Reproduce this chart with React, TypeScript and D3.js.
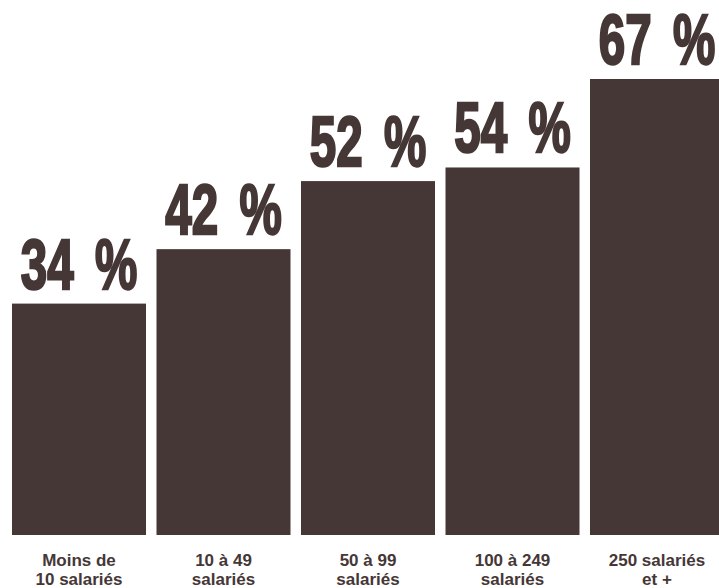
import React, { useEffect, useRef } from 'react';
import * as d3 from 'd3';

const categories = ['Moins de|10 salariés', '10 à 49|salariés', '50 à 99|salariés', '100 à 249|salariés', '250 salariés|et +'];
const values = [34, 42, 52, 54, 67];

export default function App() {
  const svgRef = useRef<SVGSVGElement>(null);

  useEffect(() => {
    if (!svgRef.current) return;
    drawChart();
  }, []);

  const drawChart = () => {
    const svg = d3.select(svgRef.current);
    svg.selectAll('*').remove();

    const W = 719;
    const H = 588;
    const color = '#463737';
    const baseline = 535;

    svg.attr('width', W).attr('height', H);

    const x = d3
      .scaleBand<string>()
      .domain(categories)
      .range([12, 724])
      .paddingInner(0.0727)
      .paddingOuter(0);

    const y = d3.scaleLinear().domain([0, 67]).range([baseline, 79]);

    // Bars
    svg
      .selectAll('.bar')
      .data(values)
      .enter()
      .append('rect')
      .attr('class', 'bar')
      .attr('x', (d, i) => x(categories[i])!)
      .attr('y', (d) => y(d))
      .attr('width', x.bandwidth())
      .attr('height', (d) => y(0) - y(d))
      .attr('fill', color);

    // Value labels (condensed heavy)
    const sx = 0.68;
    svg
      .selectAll('.val')
      .data(values)
      .enter()
      .append('text')
      .attr('class', 'val')
      .attr('transform', (d, i) => `translate(${x(categories[i])! + x.bandwidth() / 2},${y(d) - 15}) scale(${sx},1)`)
      .attr('text-anchor', 'middle')
      .style('font-family', '"Liberation Sans", Arial, sans-serif')
      .style('font-weight', 'bold')
      .style('font-size', '70px')
      .style('fill', color)
      .style('stroke', color)
      .style('stroke-width', 2.5)
      .style('word-spacing', '12px')
      .text((d) => `${d} %`);

    // Category labels
    categories.forEach((c, i) => {
      const lines = c.split('|');
      const t = svg
        .append('text')
        .attr('text-anchor', 'middle')
        .attr('x', x(c)! + x.bandwidth() / 2)
        .attr('y', 566)
        .style('font-family', '"Liberation Sans", Arial, sans-serif')
        .style('font-weight', 'bold')
        .style('font-size', '17px')
        .style('fill', color);
      lines.forEach((l, j) => {
        t.append('tspan')
          .attr('x', x(c)! + x.bandwidth() / 2)
          .attr('dy', j === 0 ? 0 : 19)
          .text(l);
      });
    });
  };

  return (
    <div style={{ position: 'absolute', left: 0, top: 0, background: '#fff' }}>
      <svg ref={svgRef} style={{ display: 'block' }}></svg>
    </div>
  );
}
